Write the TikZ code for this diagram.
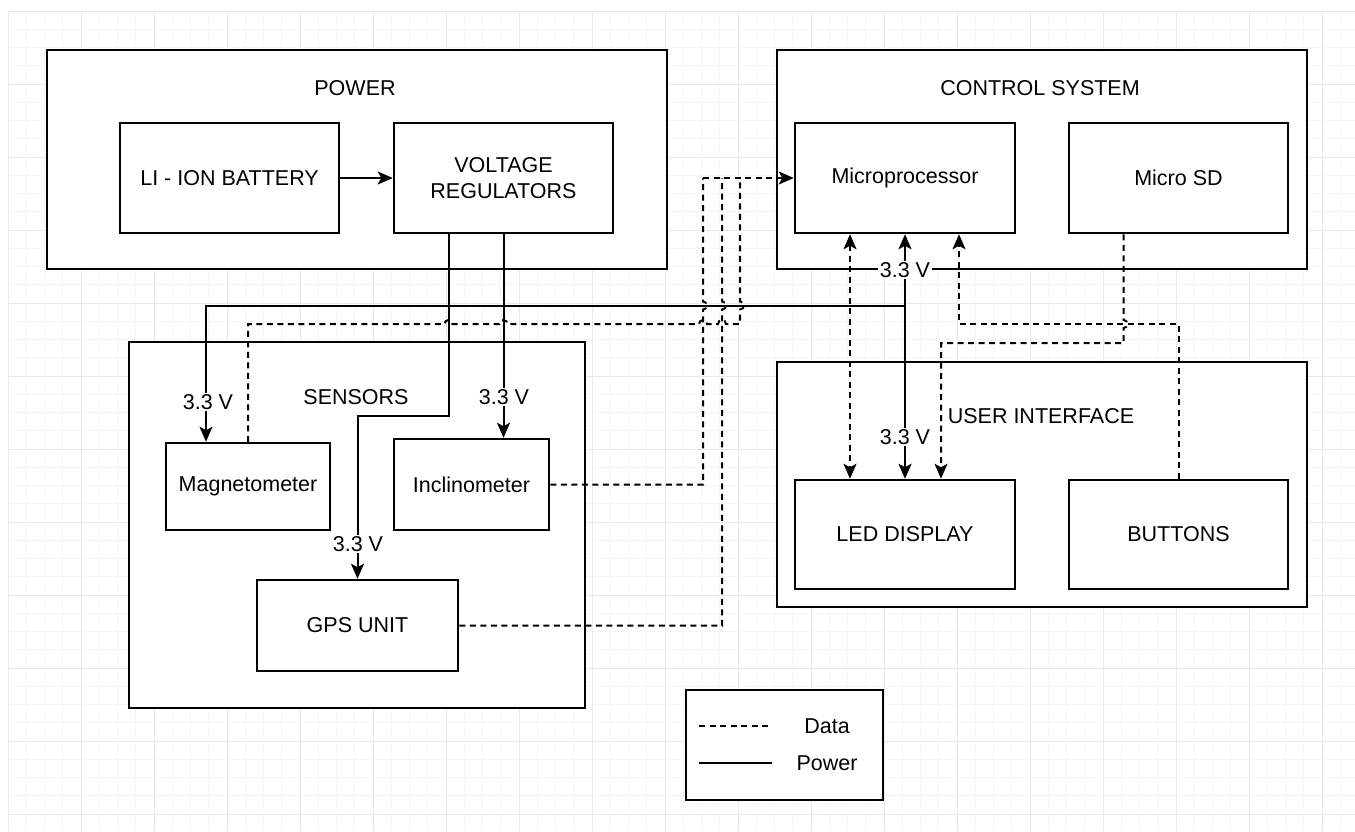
\documentclass[tikz,border=0pt]{standalone}
\usepackage{fontspec}
\setmainfont{Liberation Sans}
\usetikzlibrary{arrows.meta}

\begin{document}
\begin{tikzpicture}[
  x=1pt, y=-1pt,
  >={Stealth[length=15pt, width=13pt, inset=3.5pt]},
  every node/.style={font=\fontsize{21.5}{25.5}\selectfont},
  group/.style={rectangle, draw=black, fill=white, line width=2.5pt},
  unit/.style={rectangle, draw=black, fill=white, line width=2.5pt, text centered, align=center},
  pwr/.style={->, line width=2pt},
  data/.style={->, line width=2pt, dash pattern=on 6pt off 4.5pt},
  dline/.style={line width=2pt, dash pattern=on 6pt off 4.5pt},
  volt/.style={fill=white, inner sep=1.5pt},
  minor/.style={gray!7, line width=0.8pt},
  major/.style={gray!17, line width=0.8pt}
]
\useasboundingbox (0,0) rectangle (1355,831);

% Background grid
\foreach \i in {0,...,73} \draw[minor] ({8+18.25*\i},11) -- ({8+18.25*\i},831);
\foreach \j in {0,...,44} \draw[minor] (8,{11+18.25*\j}) -- (1355,{11+18.25*\j});
\foreach \i in {0,...,18} \draw[major] ({8+73*\i},11) -- ({8+73*\i},831);
\foreach \j in {0,...,11} \draw[major] (8,{11+73*\j}) -- (1355,{11+73*\j});

% Groups
\node[group, minimum width=620pt, minimum height=219pt] (power) at (357,159.5) {};
\node[group, minimum width=530pt, minimum height=219pt] (ctrl) at (1042,159.5) {};
\node[group, minimum width=456pt, minimum height=366pt] (sens) at (357,525) {};
\node[group, minimum width=530pt, minimum height=245pt] (ui) at (1042,484.5) {};

\node (powerT) at (355,88)  {POWER};
\node (ctrlT)  at (1040,88) {CONTROL SYSTEM};
\node (sensT)  at (356,397) {SENSORS};
\node (uiT)    at (1041,416) {USER INTERFACE};

% Power units
\node[unit, minimum width=219pt, minimum height=110pt] (bat)  at (229.5,178) {LI - ION BATTERY};
\node[unit, minimum width=219pt, minimum height=110pt] (vreg) at (503.5,178) {VOLTAGE\\REGULATORS};

% Control system units
\node[unit, minimum width=220pt, minimum height=110pt] (mcu) at (905,178)    {Microprocessor};
\node[unit, minimum width=219pt, minimum height=110pt] (sd)  at (1178.5,178) {Micro SD};

% Sensor units
\node[unit, minimum width=164pt, minimum height=87pt] (mag)  at (248,486.5)   {Magnetometer};
\node[unit, minimum width=155pt, minimum height=91pt] (incl) at (471.5,484.5) {Inclinometer};
\node[unit, minimum width=201pt, minimum height=91pt] (gps)  at (357.5,625.5) {GPS UNIT};

% User interface units
\node[unit, minimum width=220pt, minimum height=109pt] (led) at (905,534.5)    {LED DISPLAY};
\node[unit, minimum width=219pt, minimum height=109pt] (btn) at (1178.5,534.5) {BUTTONS};

% Battery -> Regulators
\draw[pwr] (bat.east) -- (vreg.west);

% Regulators -> units (3.3 V)
\draw[pwr] (vreg.south) -- (503.5,305.5) -| ([xshift=-42pt]mag.north);
\draw[pwr] (vreg.south) -- (vreg.south |- incl.north);
\draw[pwr] ([xshift=-55pt]vreg.south) -- (448.5,416) -| (gps.north);
\draw[pwr] (vreg.south) -- (503.5,305.5) -| (mcu.south);
\draw[pwr] (vreg.south) -- (503.5,305.5) -| (led.north);

% Sensors -> Microprocessor (data)
\coordinate (j1) at (703,178);
\coordinate (j2) at (722,178);
\coordinate (j3) at (740,178);
\draw[dline] (incl.east) -- (703,484.5) -- (703,309.5)
  arc[start angle=-90, end angle=90, radius=4pt] -- (j1);
\draw[dline] (gps.east) -- (722,625.5) -- (722,309.5)
  arc[start angle=-90, end angle=90, radius=4pt] -- (j2);
\draw[dline] (mag.north) -- (248,324) -- (444.5,324)
  arc[start angle=180, end angle=0, radius=4pt] -- (499.5,324)
  arc[start angle=180, end angle=0, radius=4pt] -- (699,324)
  arc[start angle=180, end angle=0, radius=4pt] -- (718,324)
  arc[start angle=180, end angle=0, radius=4pt] -- (740,324) -- (740,309.5)
  arc[start angle=-90, end angle=90, radius=4pt] -- (j3);
\draw[data] (j1) -- (mcu.west);

% Control system <-> user interface (data)
\draw[data, <->] ([xshift=-55pt]mcu.south) -- ([xshift=-55pt]led.north);
\draw[data] (btn.north) -- (1178.5,324) -| ([xshift=54pt]mcu.south);
\draw[data] ([xshift=-55pt]sd.south) -- (1123.5,320)
  arc[start angle=90, end angle=-90, radius=4pt] -- (1123.5,343) -| ([xshift=36pt]led.north);

% Voltage labels
\node[volt] (v1) at (208,402) {3.3 V};
\node[volt] (v2) at (504,397) {3.3 V};
\node[volt] (v3) at (358,544) {3.3 V};
\node[volt] (v4) at (905,270) {3.3 V};
\node[volt] (v5) at (905,437) {3.3 V};

% Legend
\node[unit, minimum width=197pt, minimum height=110pt] (leg) at (784.5,745) {};
\coordinate (lgA) at (699,726);
\coordinate (lgB) at (772,726);
\coordinate (lgC) at (699,763);
\coordinate (lgD) at (772,763);
\draw[dline] (lgA) -- (lgB);
\draw[line width=2pt] (lgC) -- (lgD);
\node (legD) at (827,726) {Data};
\node (legP) at (827,763) {Power};
\end{tikzpicture}
\end{document}
